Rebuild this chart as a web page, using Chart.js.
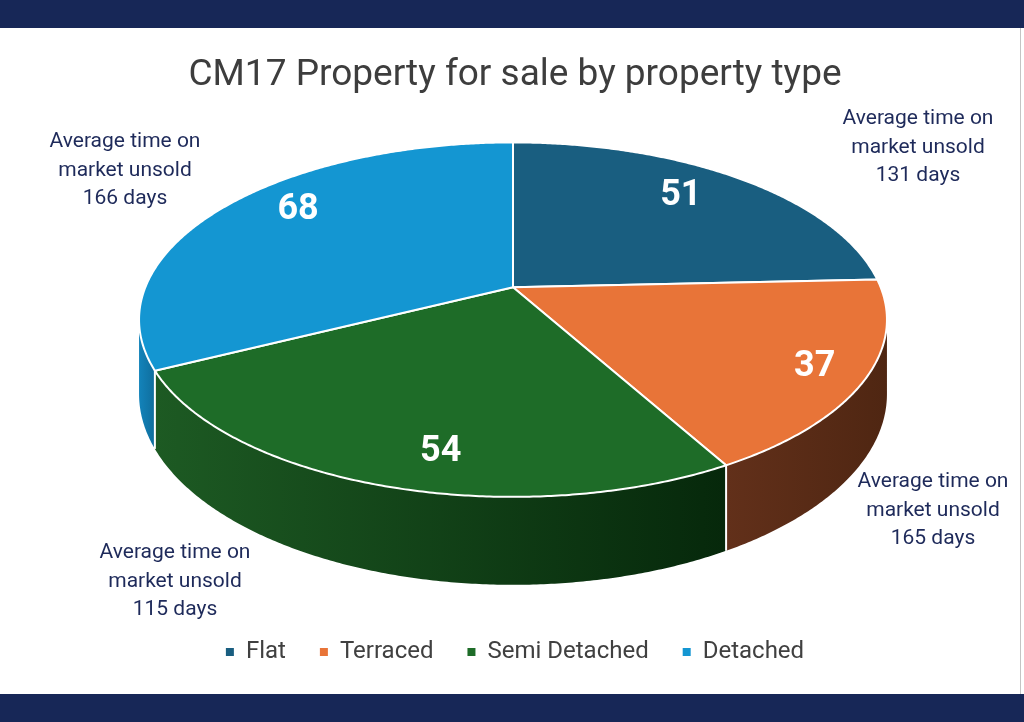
<!DOCTYPE html>
<html>
<head>
<meta charset="utf-8">
<title>CM17 Property for sale by property type</title>
<script src="https://cdn.jsdelivr.net/npm/chart.js@4"></script>
<style>
    html, body { margin: 0; padding: 0; background: #fff; }
    #page { position: relative; width: 1024px; height: 722px; overflow: hidden; background: #fff; }
    .band { position: absolute; left: 0; width: 1024px; background: #172757; }
    #band-top { top: 0; height: 28px; }
    #band-bottom { top: 694px; height: 28px; }
    #edge { position: absolute; left: 1020px; top: 28px; width: 1px; height: 666px; background: #c4c4c4; }
    #chart-box { position: absolute; left: 0; top: 28px; width: 1020px; height: 666px; }
</style>
</head>
<body>
<div id="page">
    <div class="band" id="band-top"></div>
    <div id="chart-box"><canvas id="pie"></canvas></div>
    <div id="edge"></div>
    <div class="band" id="band-bottom"></div>
</div>
<script>
/* ── data ─────────────────────────────────────────────────── */

const CATEGORIES = ['Flat', 'Terraced', 'Semi Detached', 'Detached'];
const PROPERTIES = [51, 37, 54, 68];
const DAYS_UNSOLD = [131, 165, 115, 166];

const TOP_COLOURS = ['#195e80', '#e87438', '#1e6c28', '#1496d2'];
const SIDE_LIGHT  = ['#114a66', '#62301a', '#1d5a23', '#1383ba'];
const SIDE_DARK   = ['#0b3347', '#4f2612', '#06280b', '#0f6d9c'];

/* ── 3D look: tilt, perspective and thickness, relative to the arc radius ── */

const PIE3D = { k: 0.183, sx: 1.586, sy: 0.739, depth: 0.31 };

/* value label placement per slice: [fraction of radius, angle shift in degrees] */
const LABEL_PLACE = [[0.775, -3], [0.87, 0.5], [0.835, -5.6], [0.803, 5.8]];

/* note blocks (centre x, first line y), canvas pixels */
const NOTE_POS = [[918, 91], [933, 454], [175, 525], [125, 114]];

const FONT = 'Roboto, "Noto Sans", sans-serif';

/* ── plugin: draws the pie as a tilted disc from the arc elements ── */

const pie3dPlugin = {
    id: 'pie3d',
    beforeDatasetsDraw(chart) {
        const ctx = chart.ctx;
        const arcs = chart.getDatasetMeta(0).data;
        const area = chart.chartArea;
        const R = arcs[0].outerRadius;
        const K = PIE3D.k;
        const A = R * PIE3D.sx, B = R * PIE3D.sy, H = R * PIE3D.depth;
        const cx = (area.left + area.right) / 2 - 2;
        const cy = area.top + B / (1 + K);

        // t: angle clockwise from 12 o'clock, f: fraction of radius
        function P(t, f, drop) {
            const a = f * Math.sin(t), b = -f * Math.cos(t);
            const w = 1 - K * b;
            return [cx + A * a / w, cy + B * b / w + (drop ? H / w : 0)];
        }
        function steps(t0, t1) {
            const n = Math.max(2, Math.ceil((t1 - t0) / 0.008));
            const out = [];
            for (let j = 0; j <= n; j++) out.push(t0 + (t1 - t0) * j / n);
            return out;
        }

        const vis0 = Math.acos(-K), vis1 = 2 * Math.PI - vis0;
        const off = Math.PI / 2;

        ctx.save();
        ctx.lineJoin = 'round';

        /* side walls */
        arcs.forEach((arc, i) => {
            const t0 = Math.max(arc.startAngle + off, vis0);
            const t1 = Math.min(arc.endAngle + off, vis1);
            if (t1 <= t0) return;
            const ts = steps(t0, t1);
            ctx.beginPath();
            ts.forEach((t, j) => { const p = P(t, 1, false); j ? ctx.lineTo(p[0], p[1]) : ctx.moveTo(p[0], p[1]); });
            ts.slice().reverse().forEach(t => { const p = P(t, 1, true); ctx.lineTo(p[0], p[1]); });
            ctx.closePath();
            const xa = P(t0, 1, false)[0], xb = P(t1, 1, false)[0];
            const g = ctx.createLinearGradient(Math.min(xa, xb), 0, Math.max(xa, xb), 0);
            g.addColorStop(0, SIDE_LIGHT[i]);
            g.addColorStop(1, SIDE_DARK[i]);
            ctx.fillStyle = g;
            ctx.fill();
        });

        /* seams between walls */
        ctx.strokeStyle = '#fff';
        ctx.lineWidth = 2;
        arcs.forEach(arc => {
            const t = arc.startAngle + off;
            if (t > vis0 && t < vis1) {
                const p = P(t, 1, false), q = P(t, 1, true);
                ctx.beginPath(); ctx.moveTo(p[0], p[1]); ctx.lineTo(q[0], q[1]); ctx.stroke();
            }
        });

        /* top face */
        arcs.forEach((arc, i) => {
            const c = P(0, 0, false);
            ctx.beginPath();
            ctx.moveTo(c[0], c[1]);
            steps(arc.startAngle + off, arc.endAngle + off).forEach(t => {
                const p = P(t, 1, false); ctx.lineTo(p[0], p[1]);
            });
            ctx.closePath();
            ctx.fillStyle = TOP_COLOURS[i];
            ctx.fill();
            ctx.stroke();
        });

        /* value labels */
        ctx.fillStyle = '#fff';
        ctx.font = 'bold 36px ' + FONT;
        ctx.textAlign = 'center';
        ctx.textBaseline = 'middle';
        arcs.forEach((arc, i) => {
            const [f, shift] = LABEL_PLACE[i];
            const mid = (arc.startAngle + arc.endAngle) / 2 + off + shift * Math.PI / 180;
            const p = P(mid, f, false);
            ctx.fillText(String(PROPERTIES[i]), p[0], p[1]);
        });

        ctx.restore();
        return false;
    },
    afterDraw(chart) {
        const ctx = chart.ctx;
        ctx.save();
        ctx.fillStyle = '#1e2a5a';
        ctx.font = '21px ' + FONT;
        ctx.textAlign = 'center';
        ctx.textBaseline = 'middle';
        DAYS_UNSOLD.forEach((d, i) => {
            const [x, y] = NOTE_POS[i];
            ['Average time on', 'market unsold', d + ' days'].forEach((line, j) => {
                ctx.fillText(line, x, y + j * 28.5);
            });
        });
        ctx.restore();
    }
};

/* ── chart ─────────────────────────────────────────────────── */

new Chart(document.getElementById('pie'), {
    type: 'pie',
    data: {
        labels: CATEGORIES,
        datasets: [{
            data: PROPERTIES,
            backgroundColor: TOP_COLOURS,
            borderColor: '#fff',
            borderWidth: 0
        }]
    },
    options: {
        responsive: true,
        maintainAspectRatio: false,
        animation: false,
        events: [],
        layout: { padding: { top: 0, bottom: 20, left: 10, right: 0 } },
        plugins: {
            title: {
                display: true,
                text: 'CM17 Property for sale by property type',
                color: '#3d3d3d',
                font: { family: FONT, size: 37, weight: 'normal' },
                padding: { top: 26, bottom: 44 }
            },
            legend: {
                display: true,
                position: 'bottom',
                labels: {
                    color: '#404040',
                    font: { family: FONT, size: 24 },
                    boxWidth: 8,
                    boxHeight: 8,
                    padding: 34
                }
            },
            tooltip: { enabled: false }
        }
    },
    plugins: [pie3dPlugin]
});
</script>
</body>
</html>
